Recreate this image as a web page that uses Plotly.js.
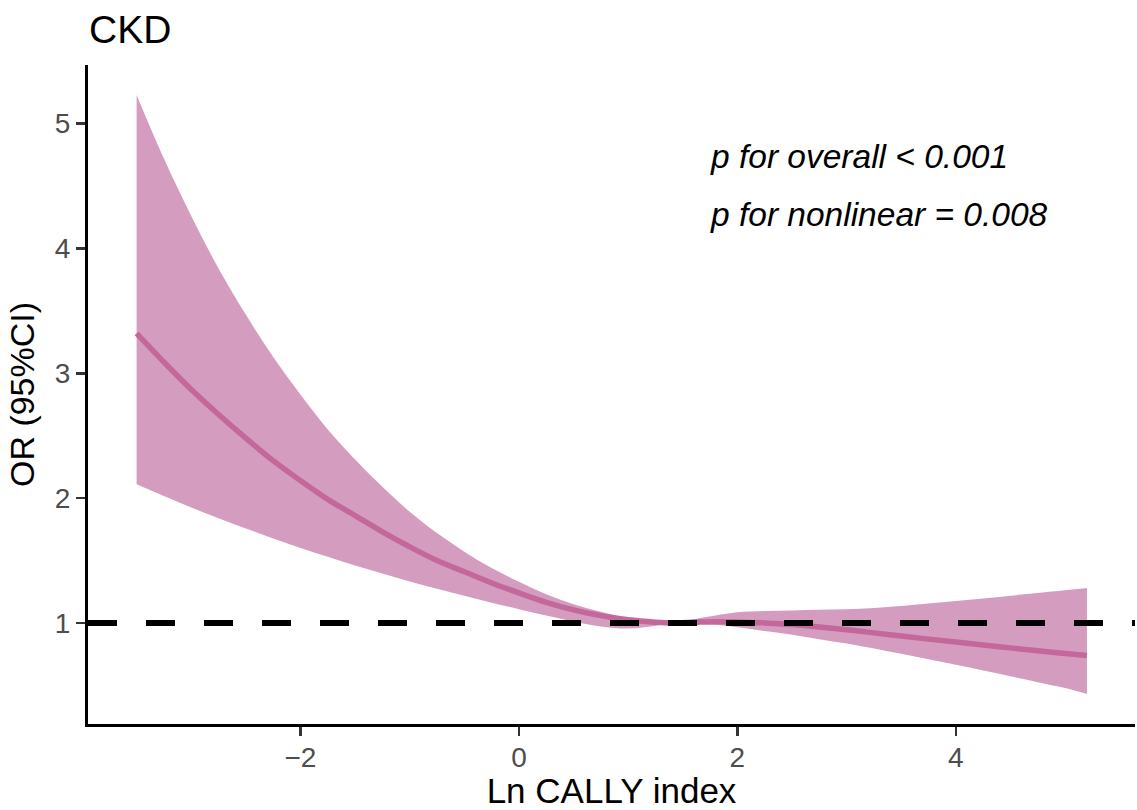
<!DOCTYPE html>
<html><head><meta charset="utf-8">
<script src="https://cdn.plot.ly/plotly-3.0.1.min.js"></script>
<style>html,body{margin:0;padding:0;background:#fff}</style>
</head><body><div id="chart" style="width:1137px;height:810px"></div>
<script>
// Data (restricted cubic spline, OR with 95% CI)
const lnCally = [-3.5,-3.25,-3.0,-2.75,-2.5,-2.25,-2.0,-1.75,-1.5,-1.25,-1.0,-0.75,-0.5,-0.25,0,0.25,0.5,0.75,1.0,1.25,1.4,1.6,1.8,2.0,2.25,2.5,2.75,3.0,3.25,3.5,3.75,4.0,4.25,4.5,4.75,5.0,5.2];
const orEstimate = [3.32,3.09,2.87,2.67,2.48,2.30,2.14,1.99,1.86,1.73,1.61,1.50,1.41,1.32,1.24,1.165,1.105,1.058,1.025,1.006,1.0,1.005,1.01,1.008,1.0,0.987,0.967,0.945,0.92,0.895,0.87,0.847,0.823,0.80,0.777,0.755,0.738];
const ciLower = [2.11,2.016,1.925,1.839,1.756,1.677,1.60,1.53,1.46,1.395,1.332,1.274,1.217,1.162,1.11,1.06,1.012,0.972,0.955,0.978,1.0,0.995,0.985,0.965,0.935,0.905,0.87,0.835,0.795,0.752,0.708,0.664,0.618,0.572,0.525,0.478,0.43];
const ciUpper = [5.23,4.72,4.26,3.84,3.47,3.13,2.83,2.55,2.31,2.09,1.89,1.72,1.57,1.44,1.33,1.23,1.15,1.09,1.04,1.01,1.0,1.03,1.06,1.085,1.095,1.10,1.105,1.11,1.12,1.135,1.155,1.175,1.195,1.218,1.24,1.262,1.28];
const xTicks = [-2, 0, 2, 4];
const yTicks = [1, 2, 3, 4, 5];
const refLineY = 1;
const chartTitle = 'CKD';
const xTitle = 'Ln CALLY index';
const yTitle = 'OR (95%CI)';
const pTexts = ['p for overall < 0.001', 'p for nonlinear = 0.008'];
const pTextX = [1.73, 1.73];
const pTextY = [4.74, 4.27];

const bandColor = '#D49DBF';
const lineColor = '#C4679B';
const font = '"Liberation Sans", Arial, Helvetica, sans-serif';

const traces = [
  {x: lnCally, y: ciLower, type: 'scatter', mode: 'lines', line: {width: 0, shape: 'spline', color: bandColor}, hoverinfo: 'skip', showlegend: false},
  {x: lnCally, y: ciUpper, type: 'scatter', mode: 'lines', fill: 'tonexty', fillcolor: bandColor, line: {width: 0, shape: 'spline', color: bandColor}, hoverinfo: 'skip', showlegend: false},
  {x: lnCally, y: orEstimate, type: 'scatter', mode: 'lines', line: {width: 5.5, shape: 'spline', color: lineColor}, showlegend: false}
];

const axisCommon = {
  showgrid: false, zeroline: false, showline: true, linecolor: '#000', linewidth: 3,
  ticks: 'outside', ticklen: 9, tickwidth: 2.5, tickcolor: '#333',
  tickfont: {family: font, size: 28, color: '#4D4D4D'}
};

const layout = {
  width: 1137, height: 810,
  paper_bgcolor: '#fff', plot_bgcolor: '#fff',
  margin: {l: 88, r: 2, t: 65, b: 86},
  font: {family: font, color: '#000'},
  title: {text: chartTitle, font: {family: font, size: 39, color: '#000'}, x: 89/1137, xanchor: 'left', xref: 'container', y: 1 - 29/810, yanchor: 'middle', yref: 'container'},
  xaxis: Object.assign({}, axisCommon, {range: [-3.945, 5.64], tickvals: xTicks, ticklabelstandoff: -3, title: {text: xTitle, font: {family: font, size: 35, color: '#000'}, standoff: 4}}),
  yaxis: Object.assign({}, axisCommon, {range: [0.19, 5.47], tickvals: yTicks, title: {text: yTitle, font: {family: font, size: 34, color: '#000'}, standoff: 10}}),
  shapes: [{type: 'line', xref: 'paper', x0: 0, x1: 1, yref: 'y', y0: refLineY, y1: refLineY, line: {color: '#000', width: 6, dash: '29px,29px'}}],
  annotations: pTexts.map((t, i) => ({x: pTextX[i], y: pTextY[i], xref: 'x', yref: 'y', text: t, showarrow: false, xanchor: 'left', yanchor: 'middle', font: {family: font, size: 33.5, color: '#000', style: 'italic'}}))
};

Plotly.newPlot('chart', traces, layout, {displayModeBar: false, staticPlot: true});
</script>
</body></html>
